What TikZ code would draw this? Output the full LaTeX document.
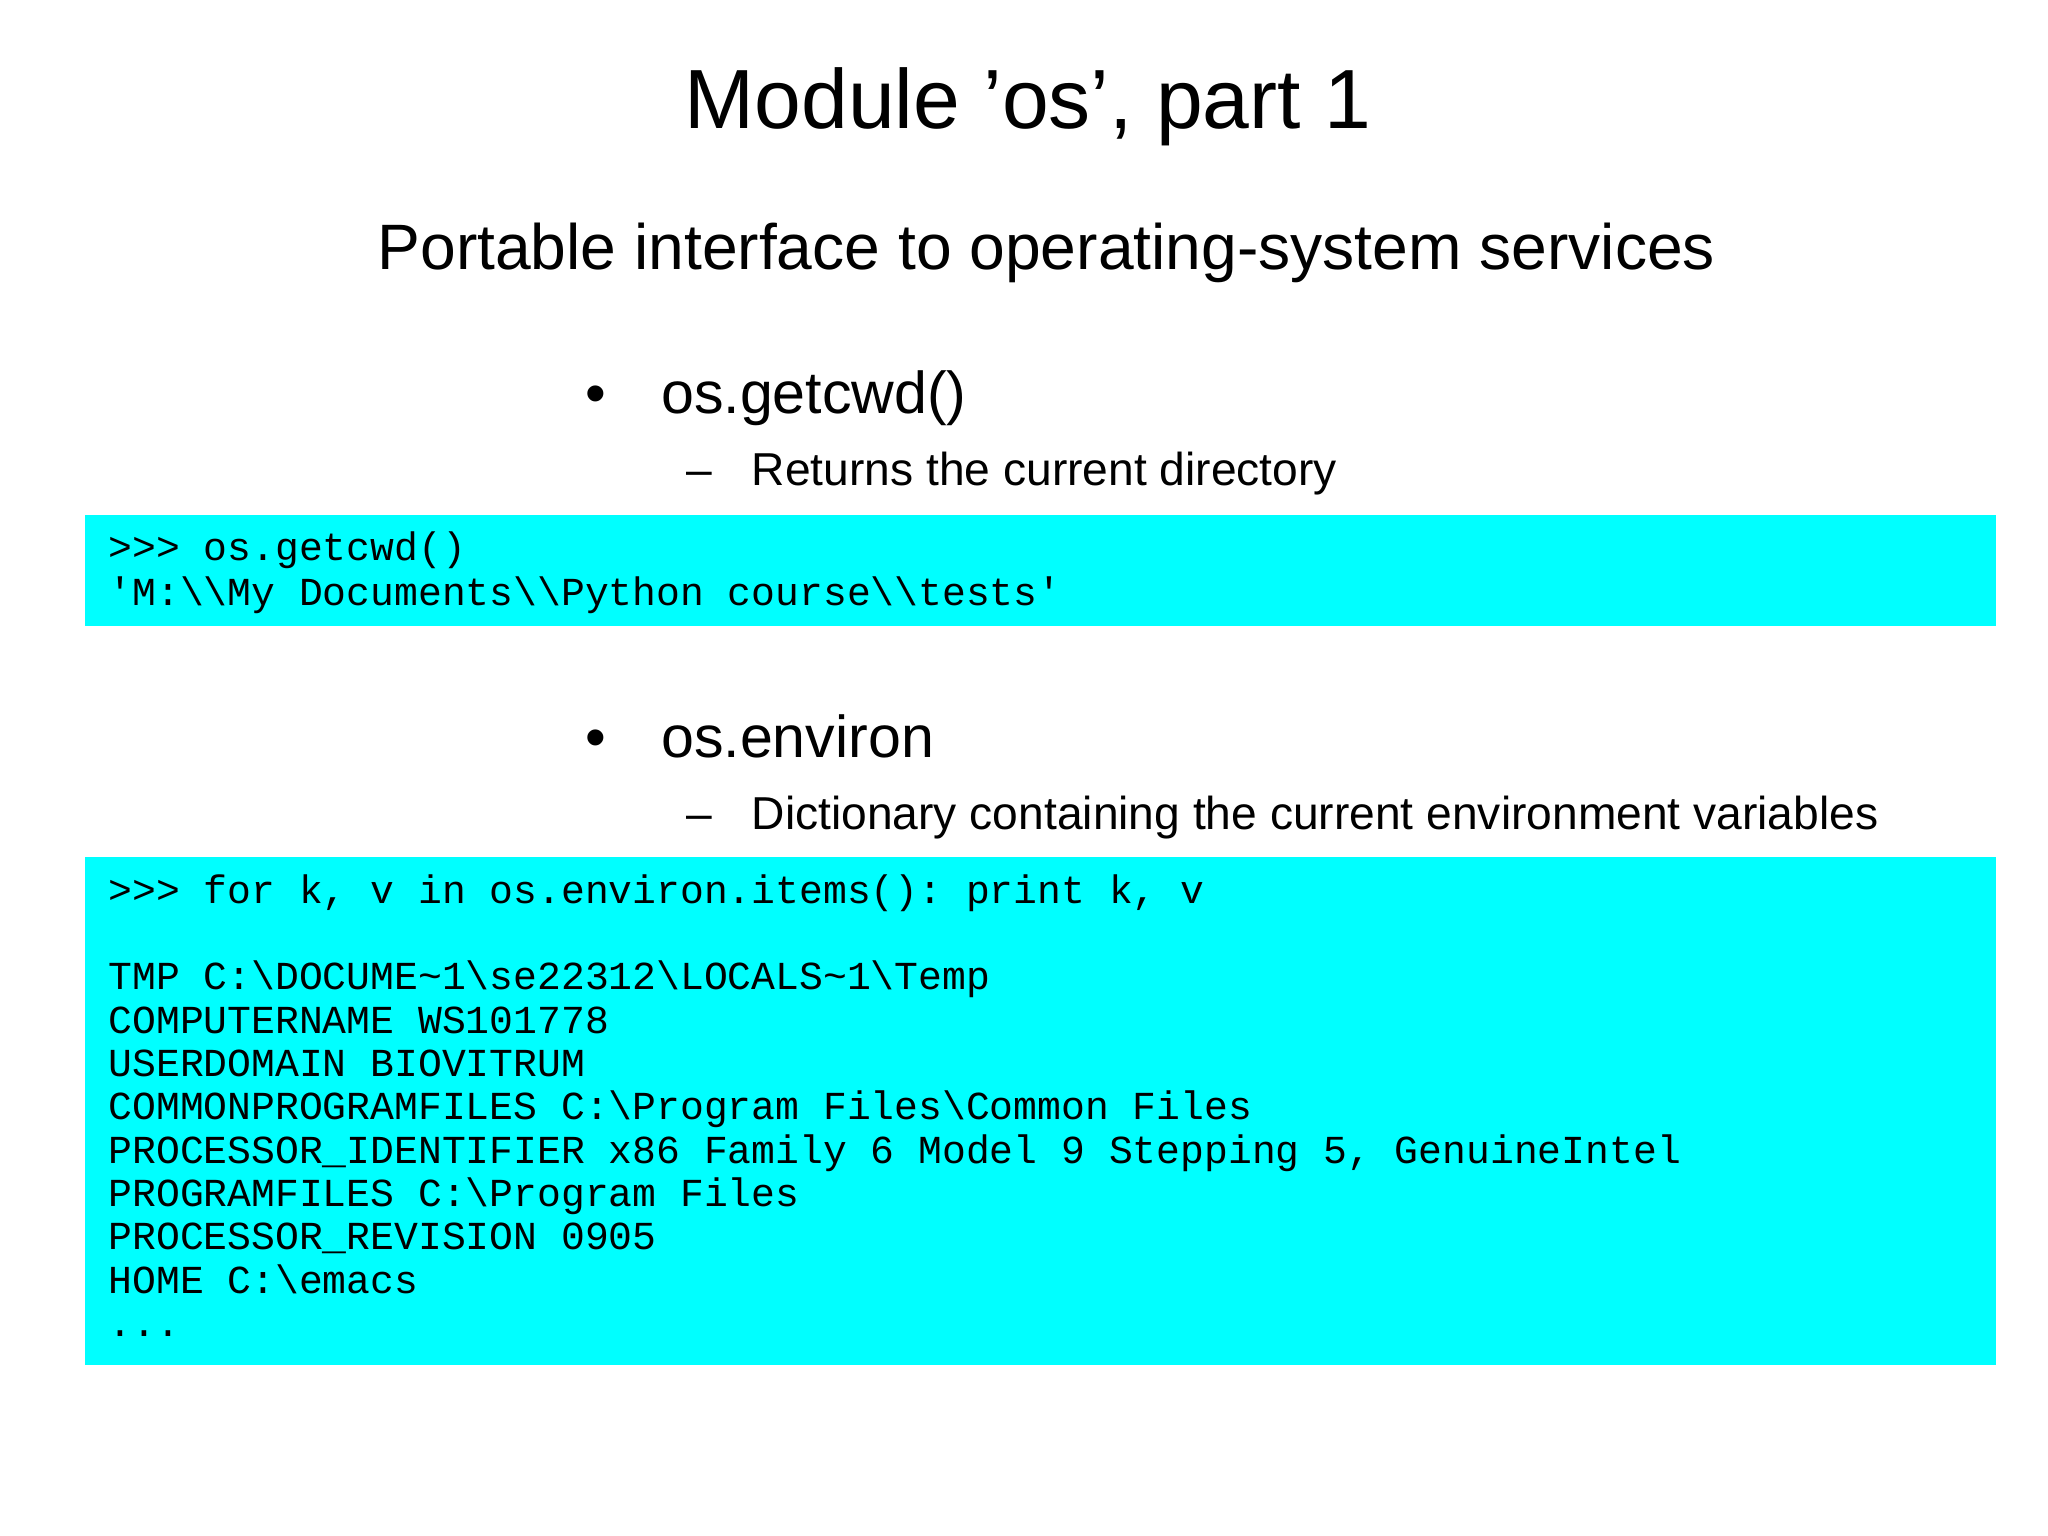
\documentclass[tikz,border=0pt]{standalone}
\usepackage{fontspec}
\setmainfont{Liberation Sans}
\setmonofont{Liberation Mono}
\newcommand{\bs}{\textbackslash}
\newcommand{\tl}{\textasciitilde}
\begin{document}
\begin{tikzpicture}[x=0.01cm,y=-0.01cm,
  code/.style={anchor=base west,inner sep=0,font=\ttfamily\fontsize{8.6pt}{10pt}\selectfont},
  box/.style={fill=cyan,draw=none}]
\useasboundingbox (0,0) rectangle (1560,1170);
\definecolor{cyan}{HTML}{00FFFF}
\node[anchor=base,inner sep=0,font=\fontsize{18.2pt}{20pt}\selectfont] (title) at (783,98) {Module 'os', part 1};
\node[anchor=base,inner sep=0,font=\fontsize{13.9pt}{16pt}\selectfont] (sub) at (797,205) {Portable interface to operating-system services};
\node[anchor=base west,inner sep=0,font=\fontsize{12.8pt}{14pt}\selectfont] (b1d) at (445,315) {•};
\node[anchor=base west,inner sep=0,font=\fontsize{12.8pt}{14pt}\selectfont] (b1) at (503,315) {os.getcwd()};
\node[anchor=base west,inner sep=0,font=\fontsize{10pt}{12pt}\selectfont] (s1d) at (522,370) {–};
\node[anchor=base west,inner sep=0,font=\fontsize{10pt}{12pt}\selectfont] (s1) at (572,370) {Returns the current directory};
\fill[box] (65,392) rectangle (1520,477);
\node[code] (c1) at (82,427) {>>> os.getcwd()};
\node[code] (c2) at (82,461) {'M:\bs\bs My Documents\bs\bs Python course\bs\bs tests'};
\node[anchor=base west,inner sep=0,font=\fontsize{12.8pt}{14pt}\selectfont] (b2d) at (445,577) {•};
\node[anchor=base west,inner sep=0,font=\fontsize{12.8pt}{14pt}\selectfont] (b2) at (503,577) {os.environ};
\node[anchor=base west,inner sep=0,font=\fontsize{10pt}{12pt}\selectfont] (s2d) at (522,632) {–};
\node[anchor=base west,inner sep=0,font=\fontsize{10pt}{12pt}\selectfont] (s2) at (572,632) {Dictionary containing the current environment variables};
\fill[box] (65,653) rectangle (1520,1040);
\node[code] (d1) at (82,688) {>>> for k, v in os.environ.items(): print k, v};
\node[code] (d2) at (82,754) {TMP C:\bs DOCUME\tl 1\bs se22312\bs LOCALS\tl 1\bs Temp};
\node[code] (d3) at (82,787) {COMPUTERNAME WS101778};
\node[code] (d4) at (82,820) {USERDOMAIN BIOVITRUM};
\node[code] (d5) at (82,853) {COMMONPROGRAMFILES C:\bs Program Files\bs Common Files};
\node[code] (d6) at (82,886) {PROCESSOR\_IDENTIFIER x86 Family 6 Model 9 Stepping 5, GenuineIntel};
\node[code] (d7) at (82,919) {PROGRAMFILES C:\bs Program Files};
\node[code] (d8) at (82,952) {PROCESSOR\_REVISION 0905};
\node[code] (d9) at (82,985) {HOME C:\bs emacs};
\node[code] (d10) at (82,1018) {...};
\end{tikzpicture}
\end{document}
